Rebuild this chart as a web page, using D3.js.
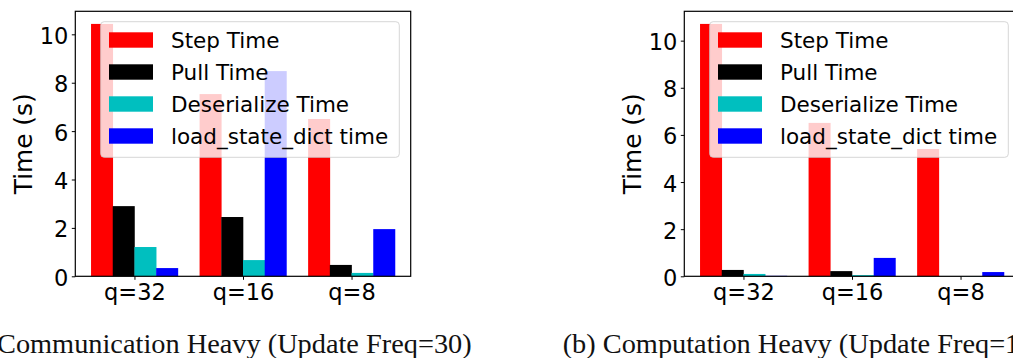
<!DOCTYPE html>
<html><head><meta charset="utf-8">
<script src="https://cdn.jsdelivr.net/npm/d3@7"></script>
<style>html,body{margin:0;padding:0;background:#fff;overflow:hidden}</style>
</head><body><svg id="c" width="1013" height="358"></svg>
<script>
const categories = ["q=32", "q=16", "q=8"];
const seriesNames = ["Step Time", "Pull Time", "Deserialize Time", "load_state_dict time"];
const seriesColors = ["#ff0000", "#000000", "#00bfbf", "#0000ff"];
const yTicks = [0, 2, 4, 6, 8, 10];
// (a) Communication Heavy
const commStep  = [10.43, 7.53, 6.50];
const commPull  = [2.90, 2.45, 0.47];
const commDeser = [1.21, 0.67, 0.14];
const commLoad  = [0.34, 8.48, 1.95];
// (b) Computation Heavy
const compStep  = [10.71, 6.51, 5.40];
const compPull  = [0.27, 0.22, 0.01];
const compDeser = [0.10, 0.05, 0.01];
const compLoad  = [0.02, 0.78, 0.18];
const captionA = "(a) Communication Heavy (Update Freq=30)";
const captionB = "(b) Computation Heavy (Update Freq=1)";

const svg = d3.select("#c");
const SANS = "DejaVu Sans";
const W = 335.4, TOP = 11.3, BOT = 276.3;

function panel(x0, series) {
  const g = svg.append("g").attr("transform", `translate(${x0},0)`);
  const maxV = d3.max(series.flat());
  const x = d3.scaleLinear().domain([-0.545, 2.545]).range([0, W]);
  const y = d3.scaleLinear().domain([0, maxV * 1.05]).range([BOT, TOP]);
  const bw = x(0.2) - x(0);
  series.forEach((vals, s) => {
    g.selectAll(null).data(vals).enter().append("rect")
      .attr("x", (d, i) => x(i - 0.4 + 0.2 * s))
      .attr("width", bw + 0.3)
      .attr("y", d => y(d))
      .attr("height", d => BOT - y(d))
      .attr("fill", seriesColors[s]);
  });
  // axes
  const yAxis = d3.axisLeft(y).tickValues(yTicks).tickSize(3.5).tickPadding(3.5).tickFormat(d3.format("d"));
  const ya = g.append("g").call(yAxis);
  const xAxis = d3.axisBottom(x).tickValues([0, 1, 2]).tickSize(3.5).tickPadding(3.5).tickFormat((d) => categories[d]);
  const xa = g.append("g").attr("transform", `translate(0,${BOT})`).call(xAxis);
  [ya, xa].forEach(a => {
    a.select(".domain").remove();
    a.selectAll(".tick line").attr("stroke", "#000").attr("stroke-width", 1);
    a.selectAll(".tick text").attr("font-family", SANS).attr("font-size", 22.5).attr("fill", "#000");
  });
  ya.selectAll(".tick text").attr("dy", "0.40em");
  xa.selectAll(".tick text").attr("dy", "0.76em");
  // spines
  g.append("rect").attr("x", 0).attr("y", TOP).attr("width", W).attr("height", BOT - TOP)
    .attr("fill", "none").attr("stroke", "#000").attr("stroke-width", 1.2);
  // y label
  g.append("text").attr("transform", `translate(${32 - 75.3},${(TOP + BOT) / 2}) rotate(-90)`)
    .attr("text-anchor", "middle").attr("font-family", SANS).attr("font-size", 24.8).attr("fill", "#000")
    .text("Time (s)");
  // legend
  const lg = g.append("g");
  lg.append("rect").attr("x", 25.4).attr("y", 21.7).attr("width", 298.6).attr("height", 135.6)
    .attr("rx", 3.5).attr("fill", "#fff").attr("fill-opacity", 0.8)
    .attr("stroke", "#ccc").attr("stroke-opacity", 0.8).attr("stroke-width", 1);
  seriesNames.forEach((n, i) => {
    const cy = 40 + 32 * i;
    lg.append("rect").attr("x", 33.7).attr("y", cy - 7.7).attr("width", 44).attr("height", 15.4).attr("fill", seriesColors[i]);
    lg.append("text").attr("x", 95.7).attr("y", cy + 7.7).attr("font-family", SANS).attr("font-size", 21.5)
      .attr("fill", "#000").text(n);
  });
}

panel(75.3, [commStep, commPull, commDeser, commLoad]);
panel(684.3, [compStep, compPull, compDeser, compLoad]);

// captions
const SERIF = "Liberation Serif";
const cA = svg.append("text").attr("font-family", SERIF).attr("font-size", 27).attr("fill", "#111").attr("y", 353.3).text(captionA);
const full = cA.node().getComputedTextLength();
const pre = cA.node().getSubStringLength(0, 4);
const k = 474.7 / (full - pre);
cA.attr("x", 471.7 - full * k).attr("textLength", full * k).attr("lengthAdjust", "spacingAndGlyphs");
const cB = svg.append("text").attr("font-family", SERIF).attr("font-size", 27).attr("fill", "#111").attr("y", 353.3).attr("x", 562.7).text(captionB);
const fullB = cB.node().getComputedTextLength();
cB.attr("textLength", fullB * k).attr("lengthAdjust", "spacingAndGlyphs");
</script></body></html>
